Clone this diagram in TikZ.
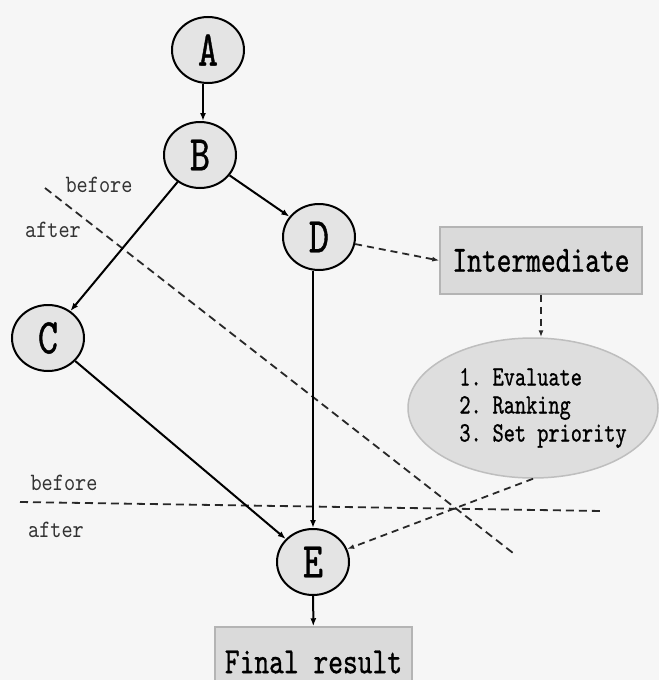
\documentclass[tikz,border=0pt]{standalone}
\usepackage{fontspec}
\newfontfamily\dfont{lmmono10-regular.otf}[FakeStretch=0.76,FakeBold=0.8]
\newfontfamily\lfont{lmmono10-regular.otf}[FakeStretch=0.85]
\usetikzlibrary{arrows.meta,shapes.geometric}
\definecolor{bgc}{RGB}{246,246,246}
\definecolor{circfill}{RGB}{228,228,228}
\definecolor{boxfill}{RGB}{218,218,218}
\definecolor{boxdraw}{RGB}{180,180,180}
\definecolor{ellfill}{RGB}{222,222,222}
\definecolor{elldraw}{RGB}{190,190,190}
\definecolor{dashc}{RGB}{40,40,40}
\begin{document}
\begin{tikzpicture}[x=1pt,y=-1pt,
  circ/.style={ellipse, draw=black, line width=2pt, fill=circfill,
    minimum width=72pt, minimum height=66pt, inner sep=0pt,
    font=\dfont\fontsize{50}{52}\selectfont},
  boxnode/.style={rectangle, draw=boxdraw, line width=1.5pt, fill=boxfill,
    inner sep=0pt, font=\dfont\fontsize{37}{40}\selectfont},
  ellnode/.style={ellipse, draw=elldraw, line width=1.5pt, fill=ellfill,
    inner sep=0pt},
  lab/.style={inner sep=0pt, text=black!80, font=\lfont\fontsize{25}{27}\selectfont},
  arr/.style={draw=black, line width=2pt, -{Latex[length=8pt,width=6pt]}},
  darr/.style={draw=dashc, line width=1.8pt, dash pattern=on 7pt off 5pt,
    -{Latex[length=7pt,width=5pt]}},
  sep/.style={draw=dashc, line width=1.8pt, dash pattern=on 8pt off 5pt}]
\useasboundingbox (0,0) rectangle (659,680);
\clip (0,0) rectangle (659,680);
\fill[bgc] (0,0) rectangle (659,680);

% separator lines
\coordinate (s1) at (45,188);
\coordinate (s2) at (513,553);
\coordinate (h1) at (20,502);
\coordinate (h2) at (602,511);
\draw[sep] (s1) -- (s2);
\draw[sep] (h1) -- (h2);

% labels
\node[lab] (b1) at (99,185) {before};
\node[lab] (a1) at (53,230) {after};
\node[lab] (b2) at (64,483) {before};
\node[lab] (a2) at (56,530) {after};

% nodes
\node[circ] (A) at (208,50) {A};
\node[circ] (B) at (200,155) {B};
\node[circ] (D) at (319,237) {D};
\node[circ] (C) at (48,338) {C};
\node[circ] (E) at (313,562) {E};
\node[boxnode, minimum width=202pt, minimum height=67pt] (I) at (541,260.5) {Intermediate};
\node[boxnode, minimum width=197pt, minimum height=70pt] (F) at (313.5,662) {Final result};
\node[ellnode, minimum width=250pt, minimum height=140pt] (V) at (533,408) {};
\node[inner sep=0pt, align=left, font=\dfont\fontsize{28}{28}\selectfont] (Vt) at (543,408)
  {1.\hspace{-4pt} Evaluate\\2.\hspace{-4pt} Ranking\\3.\hspace{-4pt} Set priority};

% connectors
\draw[arr] ([xshift=-5pt]A.south) -- ([xshift=-5pt]A.south |- B.north);
\draw[arr] (B) -- (C);
\draw[arr] (B) -- (D);
\draw[arr] (C) -- (E);
\draw[arr] (D.south -| E) -- (E);
\draw[arr] (E) -- (F);
\draw[darr] (D) -- (I.west);
\draw[darr] (I.south) -- (I.south |- V.north);
\draw[darr] (V.south) -- (E);
\end{tikzpicture}
\end{document}
